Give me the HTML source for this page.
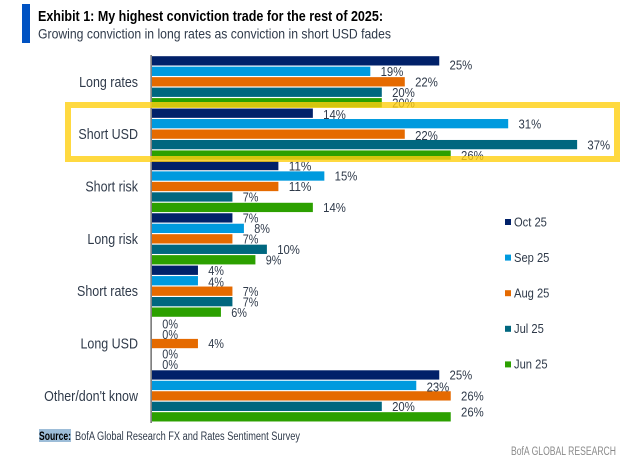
<!DOCTYPE html>
<html lang="en">
<head>
<meta charset="utf-8">
<title>Exhibit 1</title>
<style>
html,body{margin:0;padding:0;background:#fff;}
body{width:640px;height:472px;overflow:hidden;}
svg{display:block;font-family:"Liberation Sans",sans-serif;}
</style>
</head>
<body>
<svg id="chart" width="640" height="472" viewBox="0 0 640 472" xmlns="http://www.w3.org/2000/svg">
  <rect x="0" y="0" width="640" height="472" fill="#ffffff"/>
  <rect x="22" y="4" width="8" height="39" fill="#0052C2"/>
  <text x="38" y="21" font-size="14.5" font-weight="700" fill="#000" textLength="345" lengthAdjust="spacingAndGlyphs">Exhibit 1: My highest conviction trade for the rest of 2025:</text>
  <text x="38" y="38.7" font-size="14" fill="#2f3a4a" textLength="353" lengthAdjust="spacingAndGlyphs">Growing conviction in long rates as conviction in short USD fades</text>
  <g id="bars"></g>
  <g id="value-labels"></g>
  <g id="category-labels"></g>
  <rect x="150.3" y="55" width="1.7" height="368" fill="#808080"/>
  <g id="legend"></g>
  <rect x="68" y="105" width="549" height="54" fill="none" stroke="#FFCF10" stroke-width="6" stroke-opacity="0.8"/>
  <rect x="39" y="429" width="32" height="13" fill="#9DBDD8"/>
  <text x="39" y="440" font-size="11.5" font-weight="700" fill="#000" textLength="32" lengthAdjust="spacingAndGlyphs">Source:</text>
  <text x="75" y="440" font-size="11.5" fill="#2f3a4a" textLength="225" lengthAdjust="spacingAndGlyphs">BofA Global Research FX and Rates Sentiment Survey</text>
  <text x="511" y="455" font-size="11.5" fill="#8A8A8A" textLength="105" lengthAdjust="spacingAndGlyphs">BofA GLOBAL RESEARCH</text>
</svg>
<script>
const categories = ["Long rates", "Short USD", "Short risk", "Long risk", "Short rates", "Long USD", "Other/don't know"];
const seriesNames = ["Oct 25", "Sep 25", "Aug 25", "Jul 25", "Jun 25"];
const oct25 = [25, 14, 11, 7, 4, 0, 25];
const sep25 = [19, 31, 15, 8, 4, 0, 23];
const aug25 = [22, 22, 11, 7, 7, 4, 26];
const jul25 = [20, 37, 7, 10, 7, 0, 20];
const jun25 = [20, 26, 14, 9, 6, 0, 26];

const allSeries = [oct25, sep25, aug25, jul25, jun25];
const colors = ["#012169", "#009ADE", "#E56A00", "#00677F", "#2CA000"];
const NS = "http://www.w3.org/2000/svg";
const xZero = 152, pxPerPct = 11.49, yStart = 56.2, barPitch = 10.47, barHeight = 9.3;

function xScale(v) { return xZero + v * pxPerPct; }
function yBar(c, s) { return yStart + (c * seriesNames.length + s) * barPitch; }
function labelShift(c, s) {
  if (c === 0 && s === 0) return 4;
  if (c === categories.length - 1 && s === seriesNames.length - 1) return -4.8;
  if ((c === 1 && s === 0) || (c === 1 && s === 2)) return 1;
  if ((c === 4 && s === 1) || (c === 5 && s < 2) || (c === 6 && s === 1)) return 1.2;
  return 0;
}
function labelWidth(t) { return (t.length - 1) * 7 + 8.7; }

const barsG = document.getElementById("bars");
const valuesG = document.getElementById("value-labels");
const catsG = document.getElementById("category-labels");
const legendG = document.getElementById("legend");

categories.forEach(function (cat, c) {
  const catLabel = document.createElementNS(NS, "text");
  
  
  catLabel.setAttribute("transform", "translate(138," + (yBar(c, 2) + 9.7) + ") scale(0.86,1)");
  catLabel.setAttribute("text-anchor", "end");
  catLabel.setAttribute("font-size", "14.5");
  catLabel.setAttribute("fill", "#2f3a4a");
  catLabel.textContent = cat;
  catsG.appendChild(catLabel);

  allSeries.forEach(function (vals, s) {
    const v = vals[c];
    const r = document.createElementNS(NS, "rect");
    
    
    r.setAttribute("x", xZero);
    r.setAttribute("y", yBar(c, s));
    r.setAttribute("width", xScale(v) - xZero);
    r.setAttribute("height", barHeight);
    r.setAttribute("fill", colors[s]);
    barsG.appendChild(r);

    const t = document.createElementNS(NS, "text");
    const str = v + "%";
    
    
    t.setAttribute("x", xScale(v) + 10.3);
    t.setAttribute("y", yBar(c, s) + barHeight / 2 + 4.7 + labelShift(c, s));
    t.setAttribute("font-size", "13");
    t.setAttribute("fill", "#2f3a4a");
    t.setAttribute("textLength", labelWidth(str));
    t.setAttribute("lengthAdjust", "spacingAndGlyphs");
    t.textContent = str;
    valuesG.appendChild(t);
  });
});

seriesNames.forEach(function (name, s) {
  const legendY = 222 + s * 35.6;
  const sw = document.createElementNS(NS, "rect");
  
  
  sw.setAttribute("x", 505);
  sw.setAttribute("y", legendY - 3);
  sw.setAttribute("width", 6);
  sw.setAttribute("height", 6);
  sw.setAttribute("fill", colors[s]);
  legendG.appendChild(sw);

  const lt = document.createElementNS(NS, "text");
  
  
  lt.setAttribute("transform", "translate(514," + (legendY + 4.3) + ") scale(0.86,1)");
  lt.setAttribute("font-size", "13");
  lt.setAttribute("fill", "#2f3a4a");
  lt.textContent = name;
  legendG.appendChild(lt);
});
</script>
</body>
</html>
